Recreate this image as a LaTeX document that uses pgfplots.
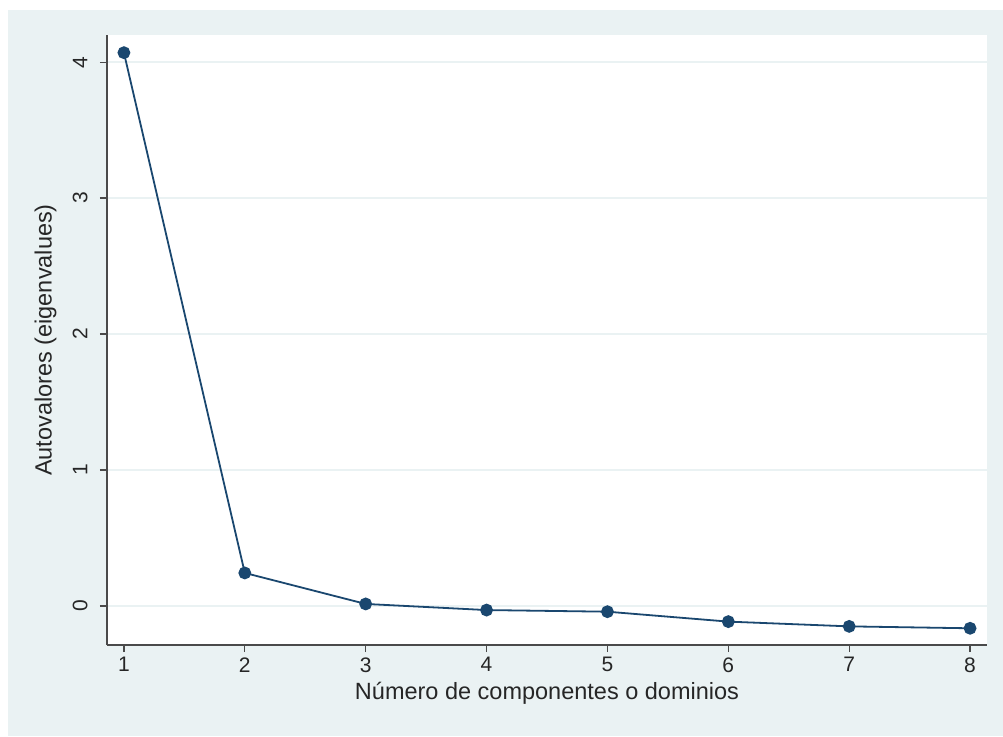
\documentclass[border=0pt]{standalone}
\usepackage{pgfplots}
\pgfplotsset{compat=1.18}
\usepackage{fontspec}
\setmainfont{Liberation Sans}
\definecolor{bgblue}{HTML}{EAF2F3}
\definecolor{gridc}{HTML}{EAF2F3}
\definecolor{navy}{HTML}{1A476F}
\definecolor{axc}{HTML}{4A4A4A}
\begin{document}
\begin{tikzpicture}[x=1pt,y=1pt]
\fill[white] (-107,-91) rectangle (896,645);
\fill[bgblue] (-99,-91) rectangle (896,635);
\useasboundingbox (-107,-91) rectangle (896,645);
\begin{axis}[
  at={(0,0)}, anchor=south west,
  scale only axis,
  width=880pt, height=610pt,
  xmin=0.86, xmax=8.14, ymin=-0.287, ymax=4.2,
  axis lines*=left,
  axis line style={axc, line width=1.5pt},
  axis background/.style={fill=white},
  xtick={1,...,8}, ytick={0,1,2,3,4},
  ymajorgrids, grid style={gridc, line width=2pt},
  tick align=outside, major tick length=7pt,
  tick style={axc, line width=1.3pt},
  yticklabel style={rotate=90, anchor=south},
  /pgf/number format/assume math mode=true,
  ticklabel style={font=\fontsize{21}{24}\selectfont, text=black!85},
  xticklabel style={yshift=-2pt},
  yticklabel style={yshift=9pt},
  label style={font=\fontsize{23.5}{27}\selectfont, text=black!85},
  xlabel={Número de componentes o dominios},
  ylabel={Autovalores (eigenvalues)},
  xlabel style={at={(axis description cs:0.5,0)}, anchor=north, yshift=-34pt},
  ylabel style={at={(axis description cs:0,0.5)}, anchor=south, yshift=47pt},
  clip=false,
]
\addplot[navy, line width=1.8pt, mark=*, mark size=5.5pt, mark options={fill=navy, draw=navy}]
coordinates {(1,4.07) (2,0.243) (3,0.015) (4,-0.03) (5,-0.042) (6,-0.115) (7,-0.15) (8,-0.164)};
\end{axis}
\end{tikzpicture}
\end{document}
